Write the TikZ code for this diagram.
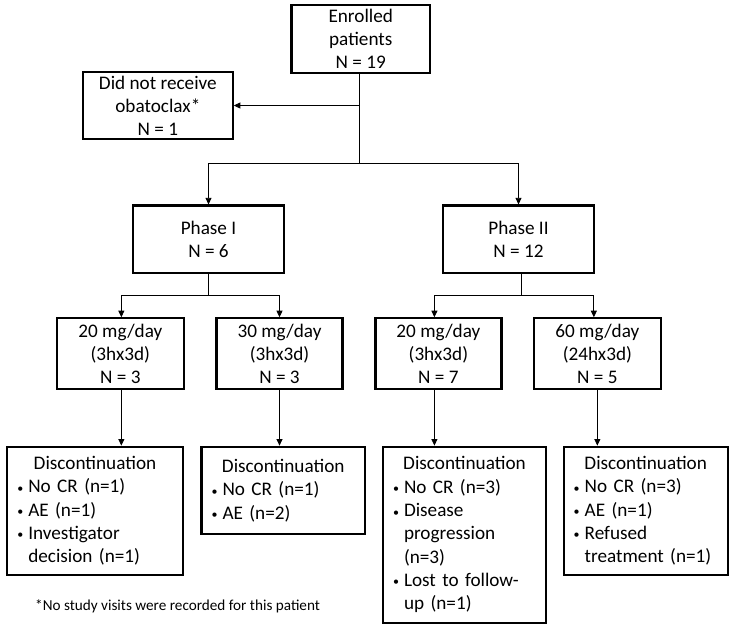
\documentclass[tikz,border=0pt]{standalone}
\usepackage{fontspec}
\setmainfont{Carlito}
\usetikzlibrary{arrows.meta}
\newcommand\bl[1]{\par\noindent\makebox[13.5pt][l]{\hspace{2.5pt}\raisebox{0.5pt}{\fontsize{12}{12}\selectfont •}}\mbox{#1}}
\newcommand\cl[1]{\par\noindent\hspace*{13.5pt}\mbox{#1}}
\begin{document}
\begin{tikzpicture}[x=1pt,y=-1pt,
  box/.style={draw, line width=2.2pt, inner sep=0pt, align=center,
    font=\fontsize{19.2}{23}\selectfont},
  dbox/.style={draw, line width=2.2pt, inner xsep=7.5pt, inner ysep=0pt, align=left,
    font=\fontsize{19.2}{23.3}\selectfont},
  conn/.style={line width=0.8pt},
  arr/.style={line width=0.8pt, -{Triangle[length=6.5pt,width=6pt]}}]
\useasboundingbox (0,0) rectangle (731,630);
% top
\node[box, minimum width=138.5pt, minimum height=67.7pt] (enr) at (360.75,38.85) {Enrolled\\patients\\N = 19};
\node[box, minimum width=149.7pt, minimum height=67.6pt] (dnr) at (157.85,105.5) {Did not receive\\obatoclax*\\N = 1};
\node[box, minimum width=151pt, minimum height=67.2pt] (ph1) at (208.5,239.1) {Phase I\\N = 6};
\node[box, minimum width=151pt, minimum height=67.2pt] (ph2) at (518.5,239.1) {Phase II\\N = 12};
% dose boxes
\node[box, minimum width=126.7pt, minimum height=70.7pt] (d1) at (120.35,353.65) {20 mg/day\\(3hx3d)\\N = 3};
\node[box, minimum width=126pt, minimum height=70.7pt] (d2) at (279.5,353.65) {30 mg/day\\(3hx3d)\\N = 3};
\node[box, minimum width=126pt, minimum height=70.7pt] (d3) at (438.4,353.65) {20 mg/day\\(3hx3d)\\N = 7};
\node[box, minimum width=126.7pt, minimum height=70.7pt] (d4) at (597.35,353.65) {60 mg/day\\(24hx3d)\\N = 5};
% discontinuation boxes
\node[dbox, text width=160.4pt, minimum height=128.3pt] (c1) at (95,510.85)
  {{\centering Discontinuation\par}\bl{No CR (n=1)}\bl{AE (n=1)}\bl{Investigator}\cl{decision (n=1)}};
\node[dbox, text width=148.5pt, minimum height=87.6pt] (c2) at (283.25,490.5)
  {{\centering Discontinuation\par}\bl{No CR (n=1)}\bl{AE (n=2)}};
\node[dbox, text width=148pt, minimum height=176pt] (c3) at (464.5,534.7)
  {{\centering Discontinuation\par}\bl{No CR (n=3)}\bl{Disease}\cl{progression}\cl{(n=3)}\bl{Lost to follow-}\cl{up (n=1)}};
\node[dbox, text width=149pt, minimum height=128.3pt] (c4) at (645.7,510.85)
  {{\centering Discontinuation\par}\bl{No CR (n=3)}\bl{AE (n=1)}\bl{Refused}\cl{treatment (n=1)}};
% footnote
\node[anchor=west, inner sep=0pt, font=\fontsize{15.2}{17}\selectfont] (fn) at (35,606) {*No study visits were recorded for this patient};
% connectors
\coordinate (b0) at ([xshift=-1pt]enr.south |- 0,163.7);
\draw[conn] ([xshift=-1pt]enr.south) -- (b0);
\draw[arr] ([xshift=-1pt]enr.south |- dnr.east) -- (dnr.east);
\draw[arr] (b0) -| (ph1.north);
\draw[arr] (b0) -| (ph2.north);
\coordinate (b1) at (ph1.south |- 0,295);
\draw[conn] (ph1.south) -- (b1);
\draw[arr] (b1) -| ([xshift=1pt]d1.north);
\draw[arr] (b1) -| (d2.north);
\coordinate (b2) at ([xshift=3pt]ph2.south |- 0,295);
\draw[conn] ([xshift=3pt]ph2.south) -- (b2);
\draw[arr] (b2) -| ([xshift=-4pt]d3.north);
\draw[arr] (b2) -| ([xshift=-3.5pt]d4.north);
\draw[arr] ([xshift=1pt]d1.south) -- ([xshift=1pt]d1.south |- c1.north);
\draw[arr] (d2.south) -- (d2.south |- c2.north);
\draw[arr] ([xshift=-4pt]d3.south) -- ([xshift=-4pt]d3.south |- c3.north);
\draw[arr] (d4.south) -- (d4.south |- c4.north);
\end{tikzpicture}
\end{document}
